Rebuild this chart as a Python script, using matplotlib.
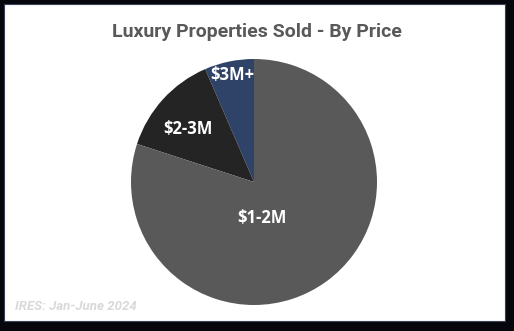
import matplotlib.pyplot as plt
from matplotlib.patches import Rectangle
import numpy as np

# Dane
labels = ["$3M+", "$2-3M", "$1-2M"]
shares = [6.5, 13.5, 80.0]
colors = ["#2f4268", "#242424", "#595959"]
title = "Luxury Properties Sold - By Price"
source = "IRES: Jan-June 2024"

fig = plt.figure(figsize=(5.14, 3.31), dpi=100)
fig.patch.set_facecolor("#05070d")

# Biała karta z obramowaniem
card = Rectangle((3.5 / 514, 10.5 / 331), 501 / 514, 317 / 331,
                 transform=fig.transFigure, facecolor="white",
                 edgecolor="#3a4256", linewidth=0.8, zorder=-10)
fig.patches.append(card)

# Wykres kołowy
ax = fig.add_axes([(254 - 123) / 514, (331 - 182 - 123) / 331,
                   246 / 514, 246 / 331])
ax.patch.set_alpha(0)
wedges, _ = ax.pie(shares, colors=colors, startangle=90, counterclock=True,
                   wedgeprops=dict(linewidth=0))
ax.set_xlim(-1, 1)
ax.set_ylim(-1, 1)
ax.set_aspect("equal")

# Etykiety (kąt, odległość od środka w promieniach)
label_pos = [(101.6, 0.89), (141.0, 0.69), (283.0, 0.30)]
for name, (ang, r) in zip(labels, label_pos):
    a = np.radians(ang)
    ax.text(r * np.cos(a), r * np.sin(a), name, ha="center", va="center",
            color="white", fontsize=12, fontweight="bold",
            family=["Open Sans", "DejaVu Sans"])

fig.text(257 / 514, 1 - 32 / 331, title, ha="center", va="center",
         color="#595959", fontsize=14, fontweight="semibold",
         family=["Roboto", "DejaVu Sans"])

fig.text(15 / 514, 1 - 307 / 331, source, ha="left", va="center",
         color="#d9d9d9", fontsize=9.5, fontweight="bold", style="italic",
         family=["Roboto", "DejaVu Sans"])

fig.savefig("out.png", dpi=100, facecolor=fig.get_facecolor())
